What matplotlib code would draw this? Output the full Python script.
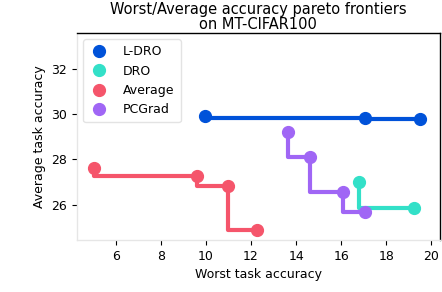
import matplotlib
matplotlib.use("Agg")
import matplotlib.pyplot as plt

series_names = ["L-DRO", "DRO", "Average", "PCGrad"]
colors = ["#0052d9", "#33e0c8", "#f5556b", "#a066f5"]
ldro_worst = [9.95, 17.07, 19.5]
ldro_avg = [29.92, 29.85, 29.78]
dro_worst = [16.8, 19.23]
dro_avg = [27.01, 25.85]
avg_worst = [5.05, 9.61, 10.98, 12.25]
avg_avg = [27.63, 27.26, 26.82, 24.87]
pcg_worst = [13.63, 14.62, 16.07, 17.07]
pcg_avg = [29.22, 28.1, 26.57, 25.67]

data = [(ldro_worst, ldro_avg), (dro_worst, dro_avg), (avg_worst, avg_avg), (pcg_worst, pcg_avg)]

fig = plt.figure(figsize=(4.42, 2.92), dpi=100)
ax = fig.add_axes([0.174, 0.178, 0.821, 0.709])

for name, c, (xs, ys) in zip(series_names, colors, data):
    ax.plot(xs, ys, drawstyle="steps-pre", color=c, lw=3.0, zorder=2)
    ax.plot(xs, ys, "o", color=c, ms=8.5, label=name, zorder=3, linestyle="none")

ax.set_xlim(4.28, 20.37)
ax.set_ylim(24.43, 33.6)
ax.set_xticks([6, 8, 10, 12, 14, 16, 18, 20])
ax.set_yticks([26, 28, 30, 32])
ax.tick_params(labelsize=9, length=3.5, width=0.8, color="black")
ax.set_xlabel("Worst task accuracy", fontsize=9)
ax.set_ylabel("Average task accuracy", fontsize=9)
ax.set_title("Worst/Average accuracy pareto frontiers\non MT-CIFAR100", fontsize=10.5, linespacing=1.0, pad=3)

ax.spines["left"].set_color("#e6e6e6")
ax.spines["bottom"].set_color("#e6e6e6")
ax.spines["top"].set_color("black")
ax.spines["right"].set_color("black")
for s in ax.spines.values():
    s.set_linewidth(1.0)

leg = ax.legend(loc="upper left", fontsize=9, frameon=True, handletextpad=1.2,
                labelspacing=0.5, borderpad=0.5, markerscale=1.0, handlelength=1.5)
leg.get_frame().set_edgecolor("#dddddd")

fig.savefig("out.png", dpi=100)
